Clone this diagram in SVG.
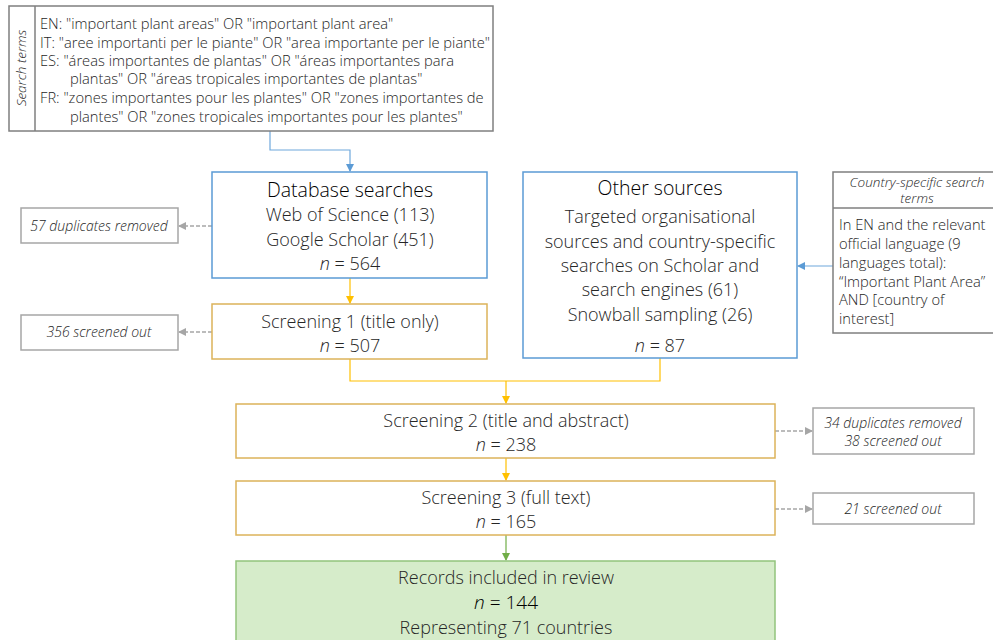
<svg xmlns="http://www.w3.org/2000/svg" width="993" height="640" viewBox="0 0 993 640">
<defs>
<style>
text{font-family:"Open Sans","Noto Sans","Liberation Sans",sans-serif;fill:#262626;}
.t{font-size:14.7px;font-weight:300;}
.m{font-size:18px;font-weight:300;text-anchor:middle;}
.h{font-size:19.5px;font-weight:300;text-anchor:middle;fill:#000;}
.i{font-size:14px;font-style:italic;font-weight:300;text-anchor:middle;}
.grey{fill:#fff;stroke:#7f7f7f;stroke-width:1.5;}
.lgrey{fill:#fff;stroke:#a6a6a6;stroke-width:1.5;}
.blue{fill:#fff;stroke:#5b9bd5;stroke-width:1.5;}
.gold{fill:#fff;stroke:#dcb35a;stroke-width:1.5;}
.green{fill:#d6ecca;stroke:#92c47c;stroke-width:1.5;}
.cb{fill:none;stroke:#6fa8dc;stroke-width:1.2;}
.cy{fill:none;stroke:#ffc000;stroke-width:1.2;}
.cg{fill:none;stroke:#70ad47;stroke-width:1.2;}
.cd{fill:none;stroke:#a6a6a6;stroke-width:1.5;stroke-dasharray:4 2;}
</style>
<marker id="ab" markerWidth="8" markerHeight="8" refX="7" refY="4" orient="auto" markerUnits="userSpaceOnUse"><path d="M0,0L8,4L0,8z" fill="#5b9bd5"/></marker>
<marker id="ay" markerWidth="8" markerHeight="8" refX="7" refY="4" orient="auto" markerUnits="userSpaceOnUse"><path d="M0,0L8,4L0,8z" fill="#ffc000"/></marker>
<marker id="ag" markerWidth="8" markerHeight="8" refX="7" refY="4" orient="auto" markerUnits="userSpaceOnUse"><path d="M0,0L8,4L0,8z" fill="#70ad47"/></marker>
<marker id="ad" markerWidth="8" markerHeight="8" refX="7" refY="4" orient="auto" markerUnits="userSpaceOnUse"><path d="M0,0L8,4L0,8z" fill="#a6a6a6"/></marker>
</defs>
<rect width="993" height="640" fill="#fff"/>

<g id="connectors">
<path class="cb" d="M270,131V150H350V171" marker-end="url(#ab)"/>
<path class="cb" d="M833,266H798" marker-end="url(#ab)"/>
<path class="cy" d="M350,278V303" marker-end="url(#ay)"/>
<path class="cy" d="M350,359V381H660V358"/>
<path class="cy" d="M506,381V403" marker-end="url(#ay)"/>
<path class="cy" d="M506,458V480" marker-end="url(#ay)"/>
<path class="cg" d="M506,535V560" marker-end="url(#ag)"/>
<path class="cd" d="M212,226H179" marker-end="url(#ad)"/>
<path class="cd" d="M212,332H179" marker-end="url(#ad)"/>
<path class="cd" d="M775,431H812" marker-end="url(#ad)"/>
<path class="cd" d="M775,509H812" marker-end="url(#ad)"/>
</g>

<g id="search-terms">
<rect class="grey" x="9" y="6" width="484" height="125"/>
<line x1="35" y1="6" x2="35" y2="131" stroke="#7f7f7f" stroke-width="1.5"/>
<text class="i" transform="translate(26,68) rotate(-90)" style="font-size:13.5px">Search terms</text>
<text class="t" x="40" y="29">EN: "important plant areas" OR "important plant area"</text>
<text class="t" x="40" y="48">IT: "aree importanti per le piante" OR "area importante per le piante"</text>
<text class="t" x="40" y="66">ES: "áreas importantes de plantas" OR "áreas importantes para</text>
<text class="t" x="70" y="84">plantas" OR "áreas tropicales importantes de plantas"</text>
<text class="t" x="40" y="103">FR: "zones importantes pour les plantes" OR "zones importantes de</text>
<text class="t" x="70" y="122">plantes" OR "zones tropicales importantes pour les plantes"</text>
</g>

<g id="database-searches">
<rect class="blue" x="212" y="172" width="275" height="106"/>
<text class="h" x="350" y="197">Database searches</text>
<text class="m" x="350" y="221">Web of Science (113)</text>
<text class="m" x="350" y="246">Google Scholar (451)</text>
<text class="m" x="350" y="270"><tspan font-style="italic">n</tspan> = 564</text>
</g>

<g id="other-sources">
<rect class="blue" x="523" y="172" width="274" height="186"/>
<text class="h" x="660" y="195">Other sources</text>
<text class="m" x="660" y="223">Targeted organisational</text>
<text class="m" x="660" y="248">sources and country-specific</text>
<text class="m" x="660" y="272">searches on Scholar and</text>
<text class="m" x="660" y="296">search engines (61)</text>
<text class="m" x="660" y="321">Snowball sampling (26)</text>
<text class="m" x="660" y="352"><tspan font-style="italic">n</tspan> = 87</text>
</g>

<g id="country-terms">
<rect class="grey" x="833" y="172" width="170" height="161"/>
<line x1="833" y1="208" x2="1003" y2="208" stroke="#7f7f7f" stroke-width="1.5"/>
<text class="i" x="917" y="187" style="font-size:13.5px">Country-specific search</text>
<text class="i" x="917" y="203" style="font-size:13.5px">terms</text>
<text class="t" x="839" y="230">In EN and the relevant</text>
<text class="t" x="839" y="249">official language (9</text>
<text class="t" x="839" y="268">languages total):</text>
<text class="t" x="839" y="287">“Important Plant Area”</text>
<text class="t" x="839" y="305">AND [country of</text>
<text class="t" x="839" y="324">interest]</text>
</g>

<g id="dup57">
<rect class="lgrey" x="21" y="208" width="157" height="35"/>
<text class="i" x="99" y="231">57 duplicates removed</text>
</g>

<g id="screening1">
<rect class="gold" x="212" y="304" width="275" height="55"/>
<text class="m" x="350" y="328">Screening 1 (title only)</text>
<text class="m" x="350" y="352"><tspan font-style="italic">n</tspan> = 507</text>
</g>

<g id="out356">
<rect class="lgrey" x="21" y="315" width="157" height="35"/>
<text class="i" x="99" y="337">356 screened out</text>
</g>

<g id="screening2">
<rect class="gold" x="236" y="404" width="539" height="54"/>
<text class="m" x="506" y="427">Screening 2 (title and abstract)</text>
<text class="m" x="506" y="451"><tspan font-style="italic">n</tspan> = 238</text>
</g>

<g id="out34">
<rect class="lgrey" x="813" y="408" width="161" height="46"/>
<text class="i" x="893" y="428">34 duplicates removed</text>
<text class="i" x="893" y="446">38 screened out</text>
</g>

<g id="screening3">
<rect class="gold" x="236" y="481" width="539" height="54"/>
<text class="m" x="506" y="504">Screening 3 (full text)</text>
<text class="m" x="506" y="528"><tspan font-style="italic">n</tspan> = 165</text>
</g>

<g id="out21">
<rect class="lgrey" x="813" y="493" width="161" height="31"/>
<text class="i" x="893" y="514">21 screened out</text>
</g>

<g id="records">
<rect class="green" x="236" y="561" width="539" height="90"/>
<text class="m" x="506" y="584">Records included in review</text>
<text class="m" x="506" y="609" style="fill:#000;font-size:19px"><tspan font-style="italic">n</tspan> = 144</text>
<text class="m" x="506" y="634">Representing 71 countries</text>
</g>
</svg>
